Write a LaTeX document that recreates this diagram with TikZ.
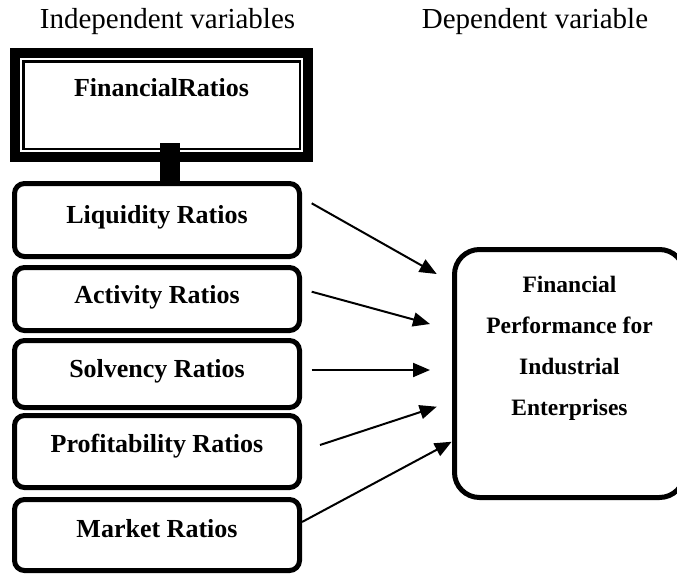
\documentclass[tikz,border=0pt]{standalone}
\usepackage{fontspec}
\setmainfont{Liberation Serif}
\usetikzlibrary{arrows.meta,calc}
\tikzset{
  title/.style={font=\fontsize{29}{34}\selectfont, anchor=base, inner sep=0pt},
  ratiobox/.style={draw, line width=5pt, rounded corners=10pt, minimum width=285pt,
    inner xsep=0pt, inner ysep=0pt, anchor=base,
    font=\fontsize{26}{30}\selectfont\bfseries},
  perfbox/.style={draw, line width=5pt, rounded corners=25pt, minimum width=230pt,
    minimum height=248pt, inner sep=0pt},
  perftext/.style={font=\fontsize{23.5}{41}\selectfont\bfseries, align=center, inner sep=0pt},
  link/.style={line width=2pt, -{Triangle[length=17pt,width=14pt]}}
}
\begin{document}
\begin{tikzpicture}[x=1pt,y=-1pt]
\useasboundingbox (0,0) rectangle (677,576);
\clip (0,0) rectangle (677,576);

% titles
\node[title] (tind) at (167.5,28) {Independent variables};
\node[title] (tdep) at (535,28) {Dependent variable};

% Financial ratios box (double border)
\node[draw, line width=10pt, minimum width=293pt, inner xsep=0pt, inner ysep=0pt,
      text height=43pt, text depth=61pt, anchor=base,
      font=\fontsize{26}{30}\selectfont\bfseries] (fr) at (161.5,96) {FinancialRatios};
\draw[line width=2.5pt] ([shift={(13.25pt,-13.25pt)}]fr.north west) rectangle ([shift={(-13.25pt,13.25pt)}]fr.south east);

% ratio boxes
\node[ratiobox, text height=39.5pt, text depth=33.5pt] (liq) at (157,223) {Liquidity Ratios};
\node[ratiobox, text height=35.5pt, text depth=27.5pt] (act) at (157,303) {Activity Ratios};
\node[ratiobox, text height=36.5pt, text depth=30.5pt] (sol) at (157,377) {Solvency Ratios};
\node[ratiobox, text height=36.5pt, text depth=35.5pt] (pro) at (157,452) {Profitability Ratios};
\node[ratiobox, text height=37.5pt, text depth=33.5pt] (mkt) at (157,537) {Market Ratios};

% connector between Financial ratios and Liquidity
\fill ($(fr.south)+(-1.5pt,19pt)$) rectangle ($(liq.north)+(23pt,-2pt)$);

% dependent variable box
\node[perfbox] (perf) at (569.5,373.5) {};
\node[perftext] (perft) at (569.5,348) {Financial\\Performance for\\Industrial\\Enterprises};

% arrow coordinates
\coordinate (s1) at (311.7,203.3);
\coordinate (e1) at (436.7,274);
\coordinate (s2) at (311.7,291.7);
\coordinate (e2) at (430,324);
\coordinate (s3) at (311.7,370);
\coordinate (e3) at (430,370);
\coordinate (s4) at (320,445);
\coordinate (e4) at (436.7,406.7);
\coordinate (s5) at (mkt.east |- 0,522);
\coordinate (e5) at (451.7,441.7);

\draw[link] (s1) -- (e1);
\draw[link] (s2) -- (e2);
\draw[link] (s3) -- (e3);
\draw[link] (s4) -- (e4);
\draw[link] (s5) -- (e5);
\end{tikzpicture}
\end{document}
